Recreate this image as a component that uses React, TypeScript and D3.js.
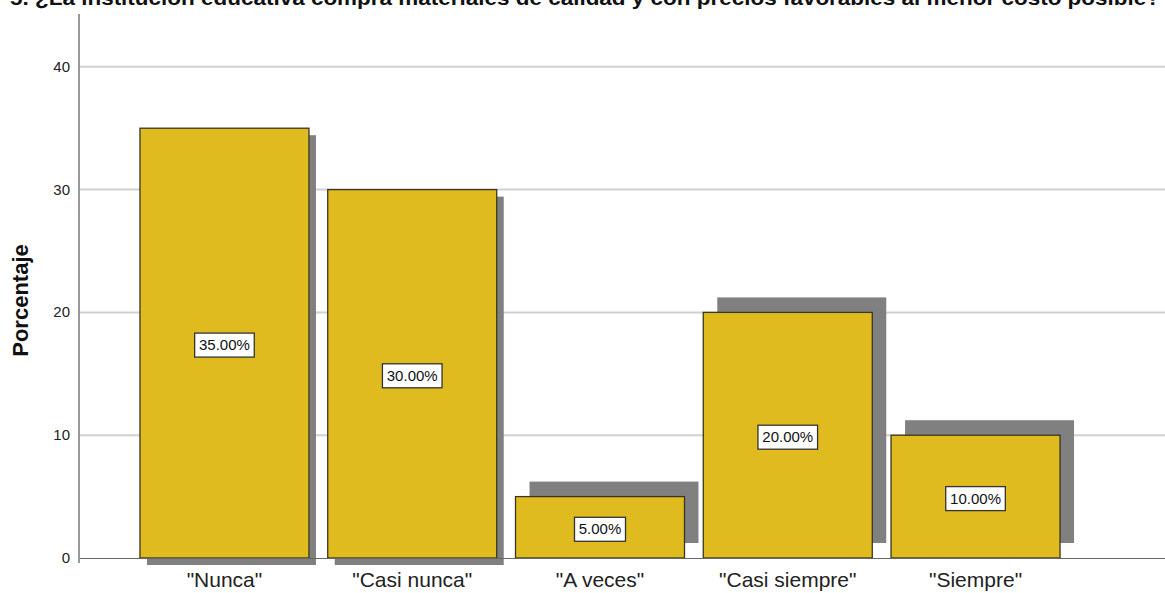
import React from "react";
import * as d3 from "d3";

const categories = ['"Nunca"', '"Casi nunca"', '"A veces"', '"Casi siempre"', '"Siempre"'];
const values = [35, 30, 5, 20, 10];
const yTicks = [0, 10, 20, 30, 40];
const title = "5. ¿La institución educativa compra materiales de calidad y con precios favorables al menor costo posible?";
const yTitle = "Porcentaje";

const W = 1165;
const H = 593;
const FONT = "Arial, 'Liberation Sans', sans-serif";

export default function App() {
  const x = d3.scaleBand<string>().domain(categories).range([78, 1122]).paddingInner(0.1).paddingOuter(0.33);
  const y = d3.scaleLinear().domain([0, 44.3]).range([558, 14]);
  const bw = x.bandwidth();
  const shadowOffset = (v: number) => (v >= 25 ? { dx: 7, dy: 7 } : { dx: 14, dy: -15 });
  const fmt = (v: number) => d3.format(".2f")(v) + "%";

  return (
    <svg width={W} height={H} style={{ position: "absolute", left: 0, top: 0, background: "#fff" }} fontFamily={FONT}>
      <rect x={0} y={0} width={W} height={H} fill="#fff" />
      <text x={10} y={5} fontSize={20} fontWeight="bold" fill="#111" textLength={1150} lengthAdjust="spacingAndGlyphs">
        {title}
      </text>
      {/* gridlines */}
      {yTicks.filter((t) => t > 0).map((t) => (
        <line key={t} x1={79} x2={W} y1={y(t)} y2={y(t)} stroke="#d0d0d0" strokeWidth={2} />
      ))}
      {/* shadows */}
      {categories.map((c, i) => {
        const o = shadowOffset(values[i]);
        return (
          <rect key={"s" + c} x={(x(c) as number) + o.dx} y={y(values[i]) + o.dy} width={bw} height={y(0) - y(values[i])} fill="#808080" />
        );
      })}
      {/* bars */}
      {categories.map((c, i) => (
        <rect key={"b" + c} x={x(c) as number} y={y(values[i])} width={bw} height={y(0) - y(values[i])} fill="#E0BB20" stroke="#3a3520" strokeWidth={1.3} />
      ))}
      {/* baseline */}
      <line x1={78} x2={W} y1={y(0) + 0.5} y2={y(0) + 0.5} stroke="#666" strokeWidth={1} />
      {/* y axis */}
      <line x1={79} x2={79} y1={14} y2={563} stroke="#999" strokeWidth={2} />
      {yTicks.map((t) => (
        <text key={"t" + t} x={70} y={y(t) + 5} textAnchor="end" fontSize={15} fill="#222">
          {t}
        </text>
      ))}
      <text transform={`translate(28,${(243 + 358) / 2}) rotate(-90)`} textAnchor="middle" fontSize={22} fontWeight="bold" fill="#111">
        {yTitle}
      </text>
      {/* category labels */}
      {categories.map((c) => (
        <text key={"l" + c} x={(x(c) as number) + bw / 2} y={587} textAnchor="middle" fontSize={21} fill="#222">
          {c}
        </text>
      ))}
      {/* value labels */}
      {categories.map((c, i) => {
        const label = fmt(values[i]);
        const tw = label.length * 8.6;
        const cx = (x(c) as number) + bw / 2;
        const cy = (y(values[i]) + y(0)) / 2 + 2;
        return (
          <g key={"v" + c}>
            <rect x={cx - tw / 2 - 4} y={cy - 12} width={tw + 8} height={24} fill="#fff" stroke="#333" strokeWidth={1.3} />
            <text x={cx} y={cy + 5} textAnchor="middle" fontSize={15} fill="#111">
              {label}
            </text>
          </g>
        );
      })}
    </svg>
  );
}
